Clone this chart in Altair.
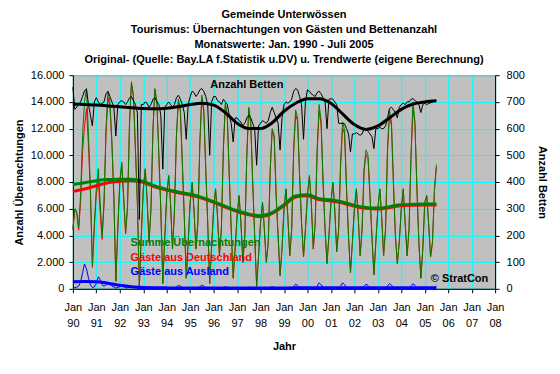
import altair as alt
import pandas as pd

# ---------------- data ----------------
years = list(range(1990, 2006))

summe_rows = [
    [4500, 6000, 5800, 4600, 7000, 11500, 14000, 15000, 11500, 7500, 1700, 4800],   # 1990
    [7500, 9000, 6500, 4000, 6500, 12000, 14700, 14000, 11000, 7000, 600, 4500],    # 1991
    [8000, 9500, 7000, 4200, 6200, 12500, 15500, 14500, 10500, 6500, 200, 4000],    # 1992
    [7500, 9000, 6800, 3500, 6000, 12000, 15000, 14000, 10000, 6000, 400, 3800],    # 1993
    [7000, 8500, 6500, 3000, 5800, 11500, 14200, 13500, 9500, 5500, 800, 3500],     # 1994
    [6500, 8000, 6000, 3000, 5000, 11000, 14500, 13500, 9000, 5000, 400, 3200],     # 1995
    [6000, 7500, 5500, 2500, 4500, 10500, 13900, 13000, 8500, 4500, 800, 3000],     # 1996
    [5500, 7000, 5000, 2000, 4000, 10000, 13600, 12500, 8000, 4000, 200, 2500],     # 1997
    [5000, 6500, 4500, 2000, 3500, 9000, 12000, 11500, 7000, 4000, 1000, 3000],     # 1998
    [6000, 7500, 5500, 2500, 4500, 10500, 13400, 12800, 8500, 5000, 2400, 4500],    # 1999
    [7000, 8500, 6500, 3000, 5000, 10500, 13800, 12600, 8000, 4500, 1900, 4000],    # 2000
    [6500, 8000, 6000, 2800, 4500, 9500, 12500, 11900, 7500, 4000, 1200, 3500],     # 2001
    [6000, 7500, 5500, 2500, 4500, 9000, 10400, 10000, 7000, 4000, 1050, 3500],     # 2002
    [6000, 7500, 5500, 2500, 4500, 10500, 13400, 12500, 8000, 4000, 1900, 3500],    # 2003
    [6000, 7500, 5000, 2500, 4500, 10000, 14000, 12500, 7500, 3500, 800, 3000],     # 2004
    [6500, 7000, 5000, 2400, 3500, 7500, 9300],                                     # 2005
]

ausland_rows = [
    [100, 80, 120, 200, 500, 1200, 1860, 1500, 800, 300, 100, 150],
    [400, 900, 700, 300, 200, 300, 400, 350, 200, 150, 50, 100],
    [150, 200, 150, 80, 80, 120, 150, 120, 80, 50, 20, 60],
    [80, 100, 80, 40, 50, 80, 100, 80, 50, 30, 10, 40],
    [60, 80, 60, 30, 60, 150, 250, 200, 80, 30, 10, 40],
    [60, 80, 60, 30, 60, 150, 280, 200, 80, 30, 10, 40],
    [50, 60, 50, 30, 50, 100, 150, 120, 60, 30, 10, 30],
    [50, 60, 50, 30, 40, 80, 120, 100, 60, 30, 10, 30],
    [50, 60, 50, 30, 40, 100, 150, 120, 60, 30, 10, 30],
    [50, 60, 50, 30, 50, 150, 350, 250, 80, 30, 10, 30],
    [50, 60, 50, 30, 60, 200, 450, 300, 100, 30, 10, 30],
    [50, 60, 50, 30, 60, 200, 450, 300, 100, 30, 10, 30],
    [50, 60, 50, 30, 50, 150, 350, 250, 80, 30, 10, 30],
    [50, 60, 50, 30, 60, 180, 400, 280, 90, 30, 10, 30],
    [50, 60, 50, 30, 60, 180, 380, 260, 90, 30, 10, 30],
    [50, 60, 50, 30, 50, 120, 200],
]

betten_rows = [
    [755, 672, 680, 690, 700, 720, 742, 748, 690, 650, 610, 700],
    [716, 700, 690, 695, 700, 730, 740, 720, 700, 680, 572, 690],
    [700, 705, 700, 690, 700, 715, 720, 705, 690, 660, 260, 690],
    [690, 700, 695, 680, 690, 710, 715, 700, 690, 650, 448, 680],
    [690, 700, 690, 680, 690, 715, 725, 710, 690, 660, 560, 690],
    [720, 740, 735, 720, 730, 745, 750, 740, 720, 690, 500, 700],
    [720, 720, 705, 700, 690, 710, 700, 690, 650, 620, 550, 640],
    [640, 630, 625, 610, 620, 640, 650, 640, 620, 600, 463, 610],
    [620, 630, 625, 620, 630, 660, 680, 660, 640, 620, 520, 640],
    [690, 700, 695, 700, 710, 740, 750, 745, 720, 690, 560, 700],
    [745, 740, 730, 725, 720, 735, 740, 730, 715, 700, 600, 710],
    [712, 710, 700, 690, 620, 619, 620, 618, 600, 580, 513, 580],
    [580, 585, 580, 575, 580, 600, 600, 590, 580, 570, 525, 600],
    [600, 605, 600, 600, 610, 640, 675, 680, 670, 660, 640, 680],
    [690, 695, 690, 700, 700, 710, 712, 705, 700, 690, 660, 690],
    [695, 690, 694, 696, 700, 702, 705],
]

# trend values, every half year Jan 1990 .. Jul 2005
trend_summe = [7810, 7950, 8100, 8190, 8200, 8200, 8050, 7700, 7450, 7250, 7080, 6850,
               6530, 6180, 5850, 5600, 5470, 5700, 6300, 6950, 7050, 6750, 6650, 6500,
               6250, 6100, 6050, 6150, 6300, 6330, 6350, 6350]
trend_deutsch = [7300, 7480, 7720, 7950, 8050, 8100, 7980, 7640, 7390, 7190, 7020, 6790,
                 6470, 6120, 5790, 5540, 5410, 5640, 6230, 6870, 6970, 6680, 6580, 6430,
                 6180, 6030, 5980, 6080, 6230, 6260, 6280, 6280]
trend_ausland = [530, 540, 530, 420, 260, 150, 100, 80, 70, 65, 65, 65, 60, 60, 60, 60,
                 60, 60, 65, 70, 75, 75, 75, 75, 75, 75, 75, 75, 75, 75, 75, 75]
trend_betten = [692, 690, 688, 685, 682, 678, 675, 674, 676, 682, 690, 695, 688, 660,
                620, 600, 600, 622, 665, 695, 712, 712, 695, 655, 615, 597, 610, 640,
                672, 692, 700, 704]

title_lines = [
    "Gemeinde Unterwössen",
    "Tourismus: Übernachtungen von Gästen und Bettenanzahl",
    "Monatswerte: Jan. 1990 - Juli 2005",
    "Original- (Quelle: Bay.LA f.Statistik u.DV) u. Trendwerte (eigene Berechnung)",
]

labels_text = ["Summe Übernachtungen", "Gäste aus Deutschland", "Gäste aus Ausland",
               "Anzahl Betten", "© StratCon"]
labels_date = ["1992-06-18T00:00:00", "1992-06-18T00:00:00", "1992-06-18T00:00:00",
               "1995-11-10T00:00:00", "2005-04-05T00:00:00"]
labels_value = [3462, 2340, 1249, 15252, 725]
labels_color = ["#008000", "#FF0000", "#0000FF", "#000000", "#000000"]

# ---------------- tables ----------------
rows = []
for yi, y in enumerate(years):
    for m in range(len(summe_rows[yi])):
        s = summe_rows[yi][m]
        a = ausland_rows[yi][m]
        rows.append({
            "date": f"{y}-{m + 1:02d}-01T00:00:00",
            "summe": s,
            "ausland": a,
            "deutschland": s - a,
            "betten": betten_rows[yi][m],
        })
monthly = pd.DataFrame(rows)

trend_dates = []
for y in years:
    trend_dates.append(f"{y}-01-01T00:00:00")
    trend_dates.append(f"{y}-07-01T00:00:00")
trend = pd.DataFrame({
    "date": trend_dates,
    "summe": trend_summe,
    "deutschland": trend_deutsch,
    "ausland": trend_ausland,
    "betten": trend_betten,
})

labels = pd.DataFrame({"text": labels_text, "date": labels_date,
                       "value": labels_value, "color": labels_color})

FONT = "Liberation Sans"

x_enc = alt.X(
    "date:T",
    scale=alt.Scale(domain=[alt.DateTime(year=1990, month=1, date=1),
                            alt.DateTime(year=2008, month=1, date=1)]),
    axis=alt.Axis(
        values=[alt.DateTime(year=y, month=1, date=1) for y in range(1990, 2009)],
        labelExpr="['Jan', timeFormat(datum.value, '%y')]",
        labelLineHeight=16,
        labelPadding=9,
        labelFontSize=11,
        labelOverlap=False,
        labelBound=False,
        labelFlush=False,
        title="Jahr",
        titlePadding=12,
        grid=True,
        gridColor="#00FFFF",
        gridWidth=1,
        labelAngle=0,
    ),
)

left_scale = alt.Scale(domain=[0, 16000])
left_axis = alt.Axis(
    values=list(range(0, 16001, 2000)),
    labelExpr="replace(format(datum.value, ','), ',', '.')",
    title="Anzahl Übernachtungen",
    orient="left",
    grid=True,
    gridColor="#00FFFF",
    gridWidth=1,
    labelPadding=5,
    labelFlush=False,
    titlePadding=6,
)
right_scale = alt.Scale(domain=[0, 800])
right_axis = alt.Axis(
    values=list(range(0, 801, 100)),
    title="Anzahl Betten",
    orient="right",
    grid=False,
    labelPadding=7,
    labelFlush=False,
    titlePadding=12,
)


def thin(col, color):
    return alt.Chart(monthly).mark_line(color=color, strokeWidth=1).encode(
        x=x_enc, y=alt.Y(f"{col}:Q", scale=left_scale, axis=left_axis))


def thick(col, color, w=3):
    return alt.Chart(trend).mark_line(color=color, strokeWidth=w, interpolate="monotone").encode(
        x=x_enc, y=alt.Y(f"{col}:Q", scale=left_scale, axis=left_axis))


texts = alt.Chart(labels).mark_text(
    align="left", baseline="middle", font=FONT, fontSize=11, fontWeight="bold"
).encode(
    x=x_enc,
    y=alt.Y("value:Q", scale=left_scale, axis=left_axis),
    text="text:N",
    color=alt.Color("color:N", scale=None),
)

left = alt.layer(
    thin("deutschland", "#FF0000"),
    thin("summe", "#008000"),
    thin("ausland", "#0000FF"),
    thick("deutschland", "#FF0000"),
    thick("summe", "#008000"),
    thick("ausland", "#0000FF"),
    texts,
)

beds_thin = alt.Chart(monthly).mark_line(color="#000000", strokeWidth=1).encode(
    x=x_enc, y=alt.Y("betten:Q", scale=right_scale, axis=right_axis))
beds_trend = alt.Chart(trend).mark_line(color="#000000", strokeWidth=3, interpolate="monotone").encode(
    x=x_enc, y=alt.Y("betten:Q", scale=right_scale, axis=right_axis))
right = alt.layer(beds_thin, beds_trend)

chart = alt.layer(left, right).resolve_scale(y="independent").properties(
    width=423,
    height=214,
    autosize=alt.AutoSizeParams(type="none"),
    padding={"left": 65, "top": 67, "right": 57, "bottom": 69},
    background="#FFFFFF",
    title=alt.TitleParams(
        text=title_lines, font=FONT, fontSize=11, fontWeight="bold",
        anchor="middle", lineHeight=15, offset=4, color="#000000",
    ),
).configure_view(
    fill="#C0C0C0", stroke="#808080", strokeWidth=1,
).configure_axis(
    labelFont=FONT, labelFontSize=11, labelColor="#000000",
    titleFont=FONT, titleFontSize=11, titleFontWeight="bold", titleColor="#000000",
    domainColor="#000000", tickColor="#000000", tickSize=4,
)

chart.save("out.html", embed_options={"renderer": "svg", "actions": False})
